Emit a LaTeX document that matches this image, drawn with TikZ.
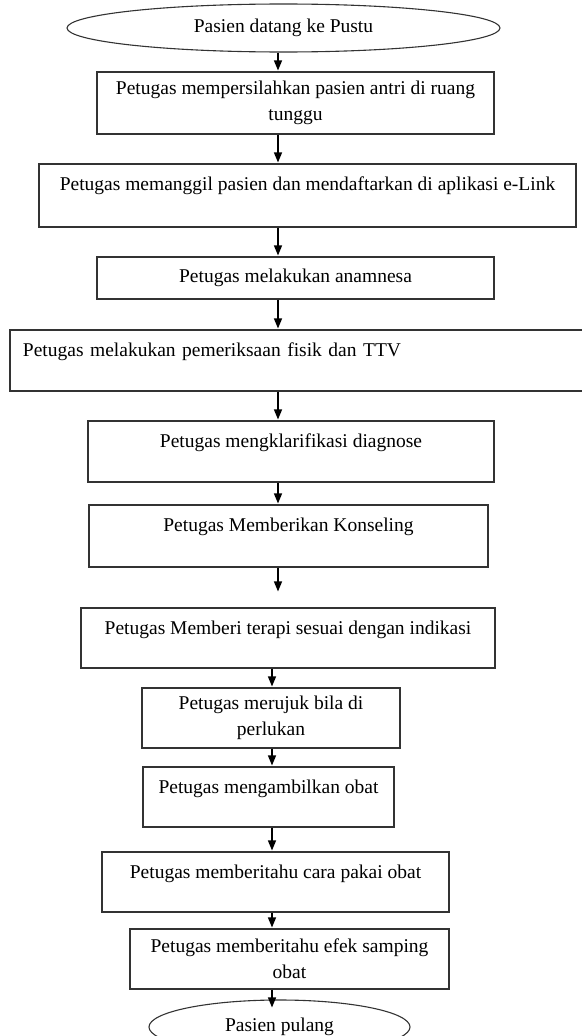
\documentclass[tikz,border=0pt]{standalone}
\usepackage{fontspec}
\setmainfont{Liberation Serif}
\usepackage{tikz}
\usetikzlibrary{shapes.geometric}
\usetikzlibrary{arrows.meta}

\tikzset{
  kotak/.style={draw=black!80, line width=1.1pt, inner sep=0pt, align=center},
  atas/.style={text height=26pt, text depth=#1},
  oval/.style={draw=black!80, line width=1.1pt, ellipse, inner sep=0pt},
  panah/.style={line width=1.3pt, shorten >=1pt, -{Triangle[length=10pt,width=8pt]}}
}

\begin{document}
\begin{tikzpicture}[x=1pt, y=-1pt, every node/.style={font=\fontsize{19.5pt}{26pt}\selectfont}]
  \useasboundingbox (0,0) rectangle (581,1036);
  \coordinate (jalur) at (278,0);
  \coordinate (jalurb) at (272,0);

  \node[oval, minimum width=433pt, minimum height=48pt] (datang) at (283.5,28) {Pasien datang ke Pustu};
  \node[kotak, minimum width=397pt, minimum height=62pt] (antri) at (295.5,103) {Petugas mempersilahkan pasien antri di ruang\\ tunggu};
  \node[kotak, atas=37pt, minimum width=537pt, minimum height=63pt] (daftar) at (307.5,195.5) {Petugas memanggil pasien dan mendaftarkan di aplikasi e-Link};
  \node[kotak, minimum width=397pt, minimum height=42pt] (anamnesa) at (295.5,278) {Petugas melakukan anamnesa};
  \node[kotak, atas=35pt, minimum height=61pt, inner xsep=13pt, text width=559pt, align=left] (fisik) at (302.5,360.5) {Petugas melakukan pemeriksaan fisik dan TTV};
  \node[kotak, atas=35pt, minimum width=406pt, minimum height=61pt] (diagnosa) at (291,451.5) {Petugas mengklarifikasi diagnose};
  \node[kotak, atas=36pt, minimum width=399pt, minimum height=62pt] (konseling) at (288.5,536) {Petugas Memberikan Konseling};
  \node[kotak, atas=34pt, minimum width=414pt, minimum height=60pt] (terapi) at (288,638) {Petugas Memberi terapi sesuai dengan indikasi};
  \node[kotak, minimum width=258pt, minimum height=60pt] (rujuk) at (271,718) {Petugas merujuk bila di\\ perlukan};
  \node[kotak, atas=34pt, minimum width=251pt, minimum height=60pt] (ambil) at (268.5,797) {Petugas mengambilkan obat};
  \node[kotak, atas=34pt, minimum width=347pt, minimum height=60pt] (pakai) at (275.5,882) {Petugas memberitahu cara pakai obat};
  \node[kotak, minimum width=319pt, minimum height=60pt] (efek) at (289.5,959) {Petugas memberitahu efek samping\\ obat};
  \node[oval, minimum width=261pt, minimum height=54pt] (pulang) at (279.5,1027) {Pasien pulang};

  \draw[panah] (datang.south -| jalur) -- (antri.north -| jalur);
  \draw[panah] (antri.south -| jalur) -- (daftar.north -| jalur);
  \draw[panah] (daftar.south -| jalur) -- (anamnesa.north -| jalur);
  \draw[panah] (anamnesa.south -| jalur) -- (fisik.north -| jalur);
  \draw[panah] (fisik.south -| jalur) -- (diagnosa.north -| jalur);
  \draw[panah] (diagnosa.south -| jalur) -- (konseling.north -| jalur);
  \draw[panah, shorten >=16pt] (konseling.south -| jalur) -- (terapi.north -| jalur);
  \draw[panah] (terapi.south -| jalurb) -- (rujuk.north -| jalurb);
  \draw[panah] (rujuk.south -| jalurb) -- (ambil.north -| jalurb);
  \draw[panah] (ambil.south -| jalurb) -- (pakai.north -| jalurb);
  \draw[panah] (pakai.south -| jalurb) -- (efek.north -| jalurb);
  \draw[panah, shorten >=-8pt] (efek.south -| jalurb) -- (pulang.north -| jalurb);
\end{tikzpicture}
\end{document}
